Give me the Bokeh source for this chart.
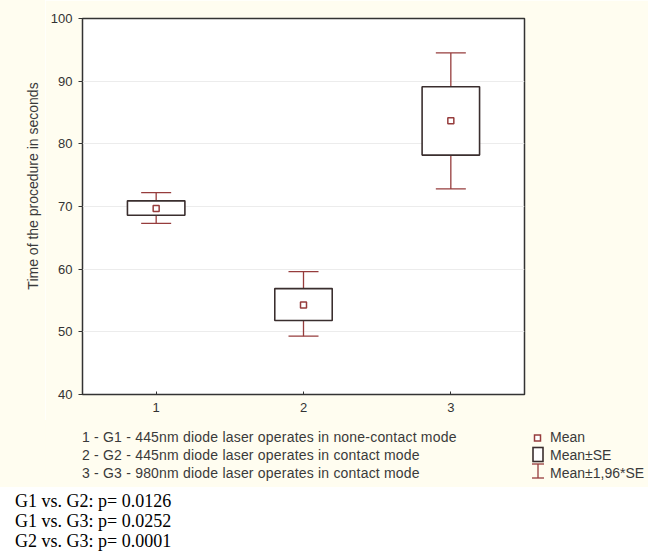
from bokeh.plotting import figure
from bokeh.models import (Range1d, FixedTicker, SingleIntervalTicker,
                          Whisker, TeeHead, ColumnDataSource, Div)
from bokeh.layouts import column, row
from bokeh.embed import file_html
from bokeh.resources import INLINE

# ---------------- data ----------------
groups = [1, 2, 3]
group_ticks = ["1", "2", "3"]
means = [69.7, 54.3, 83.7]
se_low = [68.6, 51.8, 78.2]
se_high = [70.9, 56.9, 89.1]
ci_low = [67.3, 49.3, 72.8]
ci_high = [72.2, 59.6, 94.5]

y_label = "Time of the procedure in seconds"
group_desc = [
    "1 - G1 - 445nm diode laser operates in none-contact mode",
    "2 - G2 - 445nm diode laser operates in contact mode",
    "3 - G3 - 980nm diode laser operates in contact mode",
]
key_labels = ["Mean", "Mean\u00b1SE", "Mean\u00b11,96*SE"]
pvalue_lines = [
    "G1 vs. G2: p= 0.0126",
    "G1 vs. G3: p= 0.0252",
    "G2 vs. G3: p= 0.0001",
]

# ---------------- styles ----------------
CREAM = "#fffdf0"
DARK = "#333333"
TEXT = "#3a3a3a"
BOX_LINE = "#3a2e2e"
RED = "#963c3c"
SANS = "Liberation Sans"
SERIF = "Liberation Serif"
LABEL_W = 45

# ---------------- y-axis title strip ----------------
ylab_html = (f'<div style="position:relative;width:{LABEL_W}px;height:420px;background:{CREAM};">'
             f'<div style="position:absolute;left:33px;top:186px;transform:translate(-50%,-50%) rotate(-90deg);'
             f"white-space:nowrap;font-family:'{SANS}';font-size:14px;line-height:16px;color:{TEXT};\">"
             f'{y_label}</div></div>')
ylab = Div(text=ylab_html, width=LABEL_W, height=420, margin=0)

# ---------------- main plot ----------------
p = figure(width=648 - LABEL_W, height=420, x_range=Range1d(0.5, 3.5), y_range=Range1d(40, 100),
           toolbar_location=None, output_backend="svg",
           min_border_left=82 - LABEL_W, min_border_right=124, min_border_top=18,
           min_border_bottom=26)
p.border_fill_color = CREAM
p.background_fill_color = "white"
p.outline_line_color = DARK
p.outline_line_width = 1.5

p.xaxis.ticker = FixedTicker(ticks=groups)
p.xaxis.major_label_overrides = {g: t for g, t in zip(groups, group_ticks)}
p.yaxis.ticker = SingleIntervalTicker(interval=10)
for ax in (p.xaxis[0], p.yaxis[0]):
    ax.axis_line_color = None
    ax.major_tick_line_color = DARK
    ax.minor_tick_line_color = None
    ax.major_label_text_font = SANS
    ax.major_label_text_font_size = "13px"
    ax.major_label_text_color = DARK
p.xaxis.major_tick_in = 3
p.xaxis.major_tick_out = 0
p.xaxis.major_label_standoff = 8
p.yaxis.major_tick_in = 0
p.yaxis.major_tick_out = 4
p.yaxis.major_label_standoff = 6

p.xgrid.grid_line_color = None
p.ygrid.grid_line_color = "#ececec"
p.ygrid.grid_line_width = 1

src = ColumnDataSource(dict(x=groups, mean=means, se_lo=se_low, se_hi=se_high,
                            ci_lo=ci_low, ci_hi=ci_high))

wh = Whisker(source=src, base="x", lower="ci_lo", upper="ci_hi", dimension="height",
             line_color=RED, line_width=1.3,
             lower_head=TeeHead(size=30, line_color=RED, line_width=1.3),
             upper_head=TeeHead(size=30, line_color=RED, line_width=1.3))
p.add_layout(wh)

p.vbar(x="x", bottom="se_lo", top="se_hi", width=0.39, source=src,
       fill_color="white", line_color=BOX_LINE, line_width=1.6)
p.scatter(x="x", y="mean", source=src, marker="square", size=6,
          fill_color="white", line_color=RED, line_width=1.5)

# ---------------- description / key strip and p-values ----------------
desc_tops = [9, 26.5, 44.5]
pv_tops = [70.6, 90.6, 110.6]

parts = ['<div style="position:relative;width:656px;height:132px;margin:0;padding:0;">',
         f'<div style="position:absolute;left:0;top:0;width:648px;height:67px;background:{CREAM};"></div>',
         '<svg style="position:absolute;left:0;top:0;" width="656" height="132">',
         f'<rect x="534.5" y="15" width="6" height="6" fill="white" stroke="{RED}" stroke-width="1.5"/>',
         f'<rect x="533" y="27.5" width="10" height="14" fill="white" stroke="{BOX_LINE}" stroke-width="1.6"/>',
         f'<line x1="538" y1="44" x2="538" y2="58" stroke="{RED}" stroke-width="1.3"/>',
         f'<line x1="532" y1="44" x2="544" y2="44" stroke="{RED}" stroke-width="1.3"/>',
         f'<line x1="532" y1="58" x2="544" y2="58" stroke="{RED}" stroke-width="1.3"/>',
         '</svg>']
for t, top in zip(group_desc, desc_tops):
    parts.append(f'<span style="position:absolute;left:82px;top:{top}px;white-space:nowrap;'
                 f"font-family:'{SANS}';font-size:14px;line-height:16px;letter-spacing:0.2px;"
                 f'color:{TEXT};">{t}</span>')
for t, top in zip(key_labels, desc_tops):
    parts.append(f'<span style="position:absolute;left:550px;top:{top}px;white-space:nowrap;'
                 f"font-family:'{SANS}';font-size:14px;line-height:16px;"
                 f'color:{TEXT};">{t}</span>')
for t, top in zip(pvalue_lines, pv_tops):
    parts.append(f'<span style="position:absolute;left:15px;top:{top}px;white-space:nowrap;'
                 f"font-family:'{SERIF}';font-size:18px;line-height:20px;"
                 f'color:black;">{t}</span>')
parts.append('</div>')

lower = Div(text="".join(parts), width=656, height=132, margin=0)

layout = column(row(ylab, p, spacing=0), lower, spacing=0)
open("out.html", "w").write(file_html(layout, INLINE))
